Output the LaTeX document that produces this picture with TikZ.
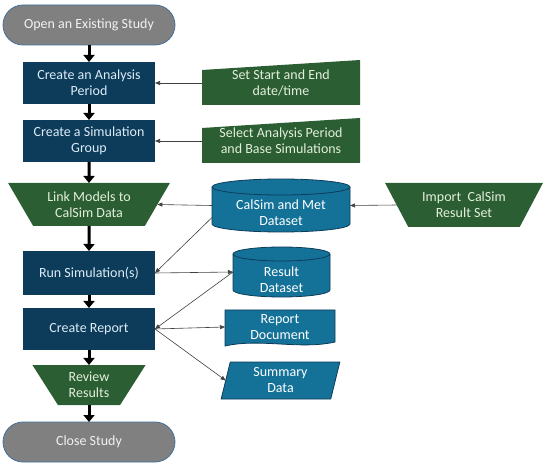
\documentclass[tikz,border=0pt]{standalone}
\usepackage{fontspec}
\setmainfont{Carlito}
\usetikzlibrary{shapes.geometric, shapes.misc, arrows.meta, calc, backgrounds}
\definecolor{nv}{RGB}{12,60,90}
\definecolor{gr}{RGB}{44,94,52}
\definecolor{tl}{RGB}{20,114,153}
\definecolor{gy}{RGB}{128,128,128}
\definecolor{bd}{RGB}{65,113,156}
\definecolor{ln}{HTML}{404040}
\definecolor{tnv}{HTML}{DDEBF7}
\definecolor{tgr}{HTML}{E2EFDA}

\begin{document}
\begin{tikzpicture}[x=1pt, y=1pt,
    every node/.style={font=\fontsize{14}{16}\selectfont, align=center, inner sep=0pt, outer sep=0pt},
    term/.style={rounded rectangle, fill=gy, draw=bd, line width=0.8pt, text=white!90!gy, minimum width=172, minimum height=40},
    proc/.style={rectangle, fill=nv, text=tnv, minimum width=132, minimum height=42},
    manual/.style={trapezium, shape border rotate=180, trapezium stretches=true, fill=gr, text=tgr},
    inbox/.style={rectangle, minimum width=158, minimum height=45, text=tgr},
    store/.style={rectangle, text=white, text height=44pt, text depth=3pt},
    body/.style={fill=tl, draw=nv, line width=0.8pt},
    flow/.style={-{Triangle[length=7pt,width=11pt]}, line width=3pt},
    link/.style={-{Triangle[length=5pt,width=4pt]}, line width=0.6pt, draw=ln}
  ]
  \useasboundingbox (0,0) rectangle (550,467);

  % Main steps
  \node[term] (open) at (89,442) {Open an Existing Study};
  \node[proc] (period) at (89,384) {Create an Analysis\\Period};
  \node[proc] (group) at (89,326) {Create a Simulation\\Group};
  \node[manual, trapezium left angle=54, trapezium right angle=54, minimum width=162, minimum height=43] (models) at (89,262.5) {Link Models to\\CalSim Data};
  \node[proc, minimum height=44] (run) at (89,194) {Run Simulation(s)};
  \node[proc] (report) at (89,138) {Create Report};
  \node[manual, trapezium left angle=57, trapezium right angle=57, minimum width=114, minimum height=40] (review) at (89,82) {Review\\Results};
  \node[term] (close) at (89,25) {Close Study};

  % Inputs on the right
  \node[inbox] (setdate) at (281,384.5) {Set Start and End\\date/time};
  \node[inbox] (select) at (281,326.5) {Select Analysis Period\\and Base Simulations};
  \begin{scope}[on background layer]
    \fill[gr] (setdate.south west) -- ([yshift=-10]setdate.north west) -- (setdate.north east) -- (setdate.south east) -- cycle;
    \fill[gr] (select.south west) -- ([yshift=-10]select.north west) -- (select.north east) -- (select.south east) -- cycle;
  \end{scope}

  % Data sets
  \node[store, minimum width=138, minimum height=53] (calsim) at (281,261.5) {CalSim and Met\\Dataset};
  \node[manual, trapezium left angle=56, trapezium right angle=56, minimum width=158, minimum height=44] (import) at (464,262) {Import~ CalSim\\Result Set};
  \node[store, minimum width=97, minimum height=50] (result) at (281.5,195) {Result\\Dataset};
  \begin{scope}[on background layer]
    \filldraw[body] ([yshift=-8]calsim.north west) -- ([yshift=8]calsim.south west)
      arc[start angle=180, end angle=360, x radius=69, y radius=8] -- ([yshift=-8]calsim.north east)
      arc[start angle=0, end angle=180, x radius=69, y radius=8] -- cycle;
    \draw[body, fill=none] ([yshift=-8]calsim.north west) arc[start angle=180, end angle=360, x radius=69, y radius=8];
    \filldraw[body] ([yshift=-7]result.north west) -- ([yshift=7]result.south west)
      arc[start angle=180, end angle=360, x radius=48.5, y radius=7] -- ([yshift=-7]result.north east)
      arc[start angle=0, end angle=180, x radius=48.5, y radius=7] -- cycle;
    \draw[body, fill=none] ([yshift=-7]result.north west) arc[start angle=180, end angle=360, x radius=48.5, y radius=7];
  \end{scope}

  % Outputs
  \node[minimum width=110, minimum height=34, text=white] (doc) at (280,140) {Report\\Document};
  \begin{scope}[on background layer]
    \filldraw[body] ([yshift=-2]doc.south west) -- (doc.north west) -- (doc.north east) -- ([yshift=2]doc.south east)
      .. controls +(-35,-8) and +(35,8) .. ([yshift=-2]doc.south west) -- cycle;
  \end{scope}
  \node[trapezium, trapezium left angle=79, trapezium right angle=101, trapezium stretches=true, minimum width=119, minimum height=37, body, text=white] (summary) at (280.5,86.5) {Summary\\Data};

  % Main flow
  \draw[flow] (open) -- (period);
  \draw[flow] (period) -- (group);
  \draw[flow] (group) -- (models);
  \draw[flow] (models) -- (run);
  \draw[flow] (run) -- (report);
  \draw[flow] (report) -- (review);
  \draw[flow] (review) -- (close);

  % Data links
  \draw[link] (setdate.west |- period.east) -- (period.east);
  \draw[link] (select.west |- group.east) -- (group.east);
  \draw[link] (import.west) -- (calsim.east);
  \draw[link] (calsim.west) -- (models.east);
  \draw[link] ([yshift=-12]calsim.west) -- (run.east);
  \draw[link] (run.east) -- (result.west);
  \draw[link] (result.west) -- (report.east);
  \draw[link] (report.east) -- (doc.west);
  \draw[link] (report.east) -- (summary.west);
\end{tikzpicture}
\end{document}
